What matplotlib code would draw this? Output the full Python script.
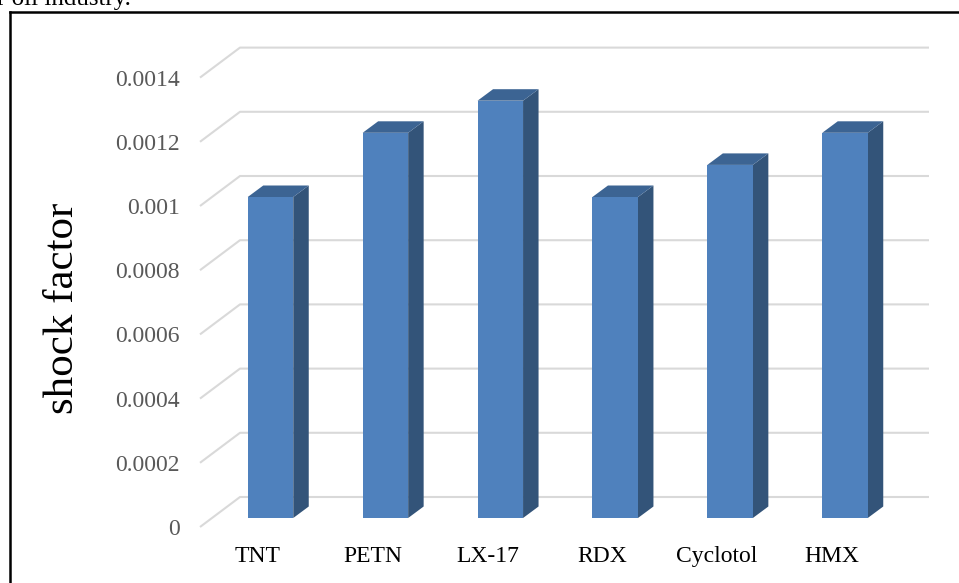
"""Excel-style 3D column chart of shock factor per explosive."""

import matplotlib

matplotlib.use("Agg")
import matplotlib.pyplot as plt
from matplotlib.lines import Line2D
from matplotlib.patches import Polygon

explosives = ["TNT", "PETN", "LX-17", "RDX", "Cyclotol", "HMX"]
shock_factor = [0.0010, 0.0012, 0.0013, 0.0010, 0.0011, 0.0012]
y_ticks = [0, 0.0002, 0.0004, 0.0006, 0.0008, 0.0010, 0.0012, 0.0014]
y_tick_labels = ["0", "0.0002", "0.0004", "0.0006", "0.0008", "0.001", "0.0012", "0.0014"]

FRONT = "#4F81BD"
SIDE = "#335479"
TOP = "#3C6493"
GRID = "#D9D9D9"
SERIF = ["Liberation Serif", "DejaVu Serif"]

W, H = 959, 583
# pixel -> data scale (x: category units, y: value units)
px_x = 1 / 114.9
px_y = 0.001 / 321
base_px = 518          # pixel row of the bar floor
first_px = 270.5       # pixel column of first bar centre

fig = plt.figure(figsize=(W / 100, H / 100), dpi=100)
ax = fig.add_axes([0, 0, 1, 1])
ax.set_xlim(-first_px * px_x, (W - first_px) * px_x)
ax.set_ylim(-(H - base_px) * px_y, base_px * px_y)
ax.axis("off")

bar_w = 45.5 * px_x
dx = 15.5 * px_x
dy = 11.5 * px_y

# gridlines: front diagonal then back wall
back_off = 21 * px_y
front_off = -9 * px_y
x_front = (200 - first_px) * px_x
x_wall = (240 - first_px) * px_x
x_end = (929 - first_px) * px_x
for v, lab in zip(y_ticks, y_tick_labels):
    ax.plot([x_front, x_wall, x_end], [v + front_off, v + back_off, v + back_off],
            color=GRID, lw=1.5, solid_capstyle="butt", zorder=1)
    ax.text(x_front - 20 * px_x, v + front_off - 8 * px_y, lab, ha="right",
            va="baseline", fontsize=17, color="#595959", family=SERIF)

for i, (name, val) in enumerate(zip(explosives, shock_factor)):
    x0, x1 = i - bar_w / 2, i + bar_w / 2
    side = [(x1, 0), (x1 + dx, dy), (x1 + dx, val + dy), (x1, val)]
    top = [(x0, val), (x1, val), (x1 + dx, val + dy), (x0 + dx, val + dy)]
    front = [(x0, 0), (x1, 0), (x1, val), (x0, val)]
    ax.add_patch(Polygon(side, closed=True, fc=SIDE, ec="none", zorder=3))
    ax.add_patch(Polygon(top, closed=True, fc=TOP, ec="none", zorder=3))
    ax.add_patch(Polygon(front, closed=True, fc=FRONT, ec="none", zorder=4))
    ax.text(i - 13 * px_x, -44 * px_y, name, ha="center", va="baseline",
            fontsize=17, color="black", family=SERIF)

ax.text((73 - first_px) * px_x, (base_px - 308) * px_y, "shock factor",
        rotation=90, rotation_mode="anchor", ha="center", va="baseline",
        fontsize=31, color="black", family=SERIF)

# frame of the embedded chart and the cut-off document line above it
fig.add_artist(Line2D([10 / W, 10 / W], [0, 1 - 12 / H], transform=fig.transFigure,
                      color="black", lw=1.8))
fig.add_artist(Line2D([10 / W, 1], [1 - 12 / H, 1 - 12 / H], transform=fig.transFigure,
                      color="black", lw=1.8))
fig.text(-3 / W, 1 - 5 / H, "r oil industry.", ha="left", va="baseline",
         fontsize=18, color="black", family=SERIF)

fig.savefig("out.png", dpi=100)
